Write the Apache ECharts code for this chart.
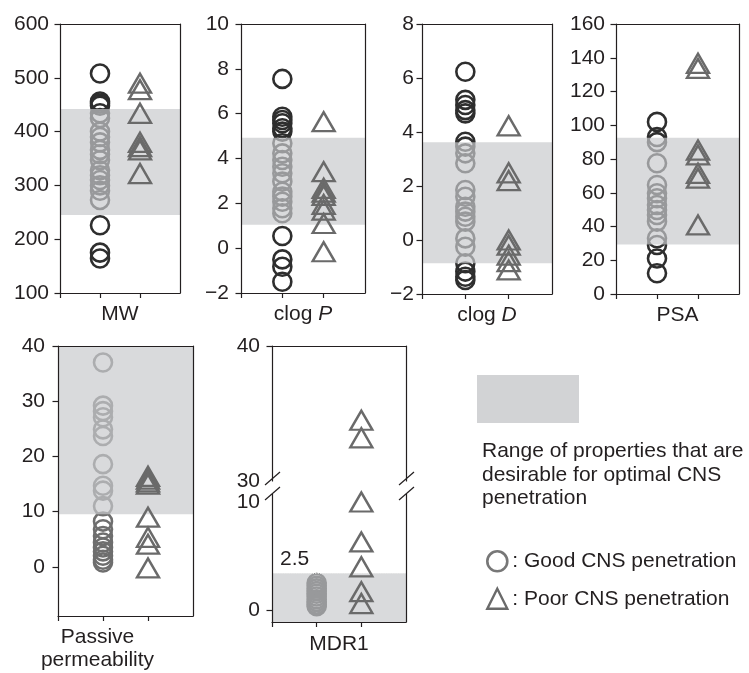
<!DOCTYPE html>
<html><head><meta charset="utf-8">
<script src="https://cdn.jsdelivr.net/npm/echarts@6/dist/echarts.min.js"></script>
<style>html,body{margin:0;padding:0;background:#fff}#c{width:749px;height:673px}</style>
</head><body><div id="c"></div>
<script>
// ---------------- data ----------------
const mwGood = [508, 456, 452, 448, 434, 425, 400, 390, 380, 366, 358, 347, 328, 319, 310, 300, 290, 273, 226, 175, 164];
const mwPoor = [490, 478, 434, 380, 372, 366, 322];
const mwRange = [245, 442];
const mwTicks = [100, 200, 300, 400, 500, 600];

const clogPGood = [7.55, 5.86, 5.72, 5.57, 5.35, 5.2, 4.68, 4.23, 3.93, 3.63, 3.34, 2.97, 2.52, 2.3, 2.07, 1.78, 1.56, 0.54, -0.5, -0.83, -1.5];
const clogPPoor = [5.64, 3.41, 2.67, 2.5, 2.35, 1.95, 1.7, 1.1, -0.16];
const clogPRange = [1.05, 4.93];
const clogPTicks = [-2, 0, 2, 4, 6, 8, 10];

const clogDGood = [6.23, 5.19, 5.0, 4.81, 4.69, 3.64, 3.46, 3.21, 2.84, 1.85, 1.6, 1.23, 1.05, 0.86, 0.68, 0.06, -0.25, -0.86, -1.17, -1.36, -1.48];
const clogDPoor = [4.23, 2.49, 2.2, 0.0, -0.19, -0.56, -0.8, -1.11];
const clogDRange = [-0.86, 3.62];
const clogDTicks = [-2, 0, 2, 4, 6, 8];

const psaGood = [102, 93, 90, 77.5, 64.6, 59.7, 56.7, 52.7, 49.8, 46.8, 42.9, 33, 29, 21, 12.3];
const psaPoor = [136.7, 133.7, 85.3, 82.4, 71.5, 68.6, 40.9];
const psaRange = [29.4, 92.6];
const psaTicks = [0, 20, 40, 60, 80, 100, 120, 140, 160];

const passiveGood = [37, 29.2, 28.2, 27.1, 24.9, 23.7, 18.6, 14.7, 13.8, 11.0, 8.2, 6.8, 5.6, 4.4, 3.5, 2.8, 2.0, 1.3, 0.8];
const passivePoor = [16.4, 15.9, 15.4, 15.0, 9.0, 5.35, 4.1, -0.2];
const passiveRange = [9.55, 40];
const passiveTicks = [0, 10, 20, 30, 40];

const mdr1Good = [2.5, 2.25, 2.0, 1.75, 1.5, 1.25, 1.0, 0.75, 0.5, 0.35];
const mdr1Poor = [34.5, 33.2, 10.0, 6.3, 4.0, 1.7, 0.6];
const mdr1Range = [-1.11, 3.4];
const mdr1Threshold = '2.5';
const mdr1UpperTicks = [30, 40];
const mdr1LowerTicks = [0, 10];

const rangeText = 'Range of properties that are\ndesirable for optimal CNS\npenetration';
const goodName = 'Good CNS penetration';
const poorName = 'Poor CNS penetration';

// ---------------- styling ----------------
const FONT = '"Liberation Sans", Arial, Helvetica, sans-serif';
const INK = '#231f20';
const CIRCLE_DARK = '#2e2e2e';
const CIRCLE_MID = '#6e6e6e';
const TRI = '#6a6a6a';
const SHADE = 'rgba(200,201,204,0.69)';
const FS = 21;

const fmt = v => (v < 0 ? '\u2212' + Math.abs(v) : String(v));
const rich = { n: { fontSize: FS, fontFamily: FONT, color: INK }, i: { fontSize: FS, fontFamily: FONT, color: INK, fontStyle: 'italic' } };

const grids = [], xAxes = [], yAxes = [], series = [];

function addPanel(p) {
  const gi = grids.length;
  grids.push(p.grid);
  const xi = xAxes.length, yi = yAxes.length;
  const line = { show: true, onZero: false, lineStyle: { color: INK, width: 1.2 } };
  const noLine = { show: false, onZero: false };
  xAxes.push({
    gridIndex: gi, type: 'value', min: 0, max: 3, position: 'bottom', z: 10,
    axisLine: p.hideBottom ? noLine : line,
    axisTick: { show: !p.hideBottom, length: 5, lineStyle: { color: INK, width: 1.2 }, customValues: [0, 1, 2] },
    axisLabel: { show: false }, splitLine: { show: false },
    name: p.name || '', nameLocation: 'middle', nameGap: p.nameGap || 9,
    nameTextStyle: { fontSize: FS, fontFamily: FONT, color: INK, lineHeight: 23.5, rich: rich, padding: p.namePad || 0 }
  });
  xAxes.push({
    gridIndex: gi, type: 'value', min: 0, max: 3, position: 'top', z: 10,
    axisLine: p.hideTop ? noLine : line,
    axisTick: { show: false }, axisLabel: { show: false }, splitLine: { show: false }
  });
  yAxes.push({
    gridIndex: gi, type: 'value', min: p.min, max: p.max, position: 'left', z: 10,
    axisLine: line,
    axisTick: { show: true, length: 5.5, lineStyle: { color: INK, width: 1.2 }, customValues: p.tickVals || p.labels },
    axisLabel: { show: true, customValues: p.labels, margin: p.margin, formatter: fmt, fontSize: FS, fontFamily: FONT, color: INK },
    splitLine: { show: false }
  });
  yAxes.push({
    gridIndex: gi, type: 'value', min: p.min, max: p.max, position: 'right', z: 10,
    axisLine: line, axisTick: { show: false }, axisLabel: { show: false }, splitLine: { show: false }
  });
  const circleColor = p.circle || CIRCLE_DARK;
  if (p.good) {
    series.push({
      type: 'scatter', name: goodName, xAxisIndex: xi, yAxisIndex: yi, z: 1,
      symbol: 'circle', symbolSize: 18, silent: true,
      itemStyle: { color: 'rgba(0,0,0,0)', borderColor: circleColor, borderWidth: 2.6, opacity: 1 },
      data: p.good.map(v => [1, v])
    });
  }
  if (p.range) {
    const ma = {
      silent: true, z: 2,
      itemStyle: { color: SHADE, borderWidth: 0 },
      label: p.rangeLabel ? { show: true, formatter: p.rangeLabel, position: [8, -25], fontSize: FS, fontFamily: FONT, color: INK } : { show: false },
      data: [[{ yAxis: p.range[0] }, { yAxis: p.range[1] }]]
    };
    const s = {
      type: 'scatter', name: 'shade', xAxisIndex: xi, yAxisIndex: yi, z: 2, silent: true,
      data: [], markArea: ma
    };
    if (p.dottedTop) {
      s.markLine = {
        silent: true, symbol: ['none', 'none'], z: 2, label: { show: false },
        lineStyle: { type: 'dotted', color: '#e8e8e8', width: 1.2 },
        data: [{ yAxis: p.range[1] }]
      };
    }
    series.push(s);
  }
  if (p.poor) {
    series.push({
      type: 'scatter', name: poorName, xAxisIndex: xi, yAxisIndex: yi, z: 3,
      symbol: 'triangle', symbolSize: [22, 19], silent: true,
      itemStyle: { color: 'rgba(0,0,0,0)', borderColor: TRI, borderWidth: 2.4, opacity: 1 },
      data: p.poor.map(v => [2, v])
    });
  }
  return { xi, yi };
}

addPanel({ grid: { left: 60, top: 24, width: 120, height: 269 }, min: 100, max: 600, labels: mwTicks, margin: 11,
  good: mwGood, poor: mwPoor, range: mwRange, name: '{n|MW}' });
addPanel({ grid: { left: 241, top: 24, width: 124, height: 269 }, min: -2, max: 10, labels: clogPTicks, margin: 12,
  good: clogPGood, poor: clogPPoor, range: clogPRange, name: '{n|clog }{i|P}' });
addPanel({ grid: { left: 422, top: 24, width: 130, height: 270 }, min: -2, max: 8, labels: clogDTicks, margin: 8,
  good: clogDGood, poor: clogDPoor, range: clogDRange, name: '{n|clog }{i|D}' });
addPanel({ grid: { left: 616, top: 24, width: 123, height: 270 }, min: 0, max: 160, labels: psaTicks, margin: 11,
  good: psaGood, poor: psaPoor, range: psaRange, name: '{n|PSA}' });
addPanel({ grid: { left: 58, top: 346, width: 135, height: 271 }, min: -8.9, max: 40, labels: passiveTicks, margin: 13,
  good: passiveGood, poor: passivePoor, range: passiveRange, circle: CIRCLE_MID, name: 'Passive\npermeability', nameGap: 9, namePad: [0, 56, 0, 0] });
const upper = addPanel({ grid: { left: 272, top: 346, width: 134, height: 135 }, min: 30, max: 40, labels: mdr1UpperTicks, tickVals: [40], margin: 12,
  poor: mdr1Poor.filter(v => v >= 20), hideBottom: true });
const lower = addPanel({ grid: { left: 272, top: 494, width: 134, height: 128 }, min: -1.11, max: 10.74, labels: mdr1LowerTicks, tickVals: [0], margin: 12,
  good: mdr1Good, poor: mdr1Poor.filter(v => v < 20), range: mdr1Range, rangeLabel: mdr1Threshold, dottedTop: true, hideTop: true,
  name: '{n|MDR1}', nameGap: 10 });

const option = {
  animation: false,
  backgroundColor: '#fff',
  grid: grids, xAxis: xAxes, yAxis: yAxes, series: series,
  legend: {
    left: 486, top: 550, padding: 0, orient: 'vertical', itemWidth: 20, itemHeight: 20, itemGap: 15, selectedMode: false,
    formatter: n => ': ' + n,
    textStyle: { fontSize: FS, fontFamily: FONT, color: INK, lineHeight: 22 },
    data: [
      { name: goodName, icon: 'circle', itemStyle: { color: 'rgba(0,0,0,0)', borderColor: '#777', borderWidth: 2.6 } },
      { name: poorName, icon: 'triangle', itemStyle: { color: 'rgba(0,0,0,0)', borderColor: '#6a6a6a', borderWidth: 2.4 } }
    ]
  },
  graphic: [
    { type: 'rect', shape: { x: 477, y: 375, width: 102, height: 48 }, style: { fill: '#d2d3d5' }, silent: true },
    { type: 'text', x: 482, y: 440, silent: true, style: { text: rangeText, font: FS + 'px ' + FONT, lineHeight: 23.3, fill: INK } }
  ]
};

const chart = echarts.init(document.getElementById('c'), null, { renderer: 'canvas' });
chart.setOption(option);

// axis-break slashes on the MDR1 panel
const ub = chart.convertToPixel({ xAxisIndex: upper.xi, yAxisIndex: upper.yi }, [0, 30]);
const ubR = chart.convertToPixel({ xAxisIndex: upper.xi, yAxisIndex: upper.yi }, [3, 30]);
const lt = chart.convertToPixel({ xAxisIndex: lower.xi, yAxisIndex: lower.yi }, [0, 10.74]);
const slashes = [];
[ub[0], ubR[0]].forEach(x => {
  slashes.push({ type: 'line', silent: true, shape: { x1: x - 7, y1: ub[1] + 4, x2: x + 8, y2: ub[1] - 9 }, style: { stroke: INK, lineWidth: 1.2 } });
  slashes.push({ type: 'line', silent: true, shape: { x1: x - 7, y1: lt[1] + 6, x2: x + 8, y2: lt[1] - 7 }, style: { stroke: INK, lineWidth: 1.2 } });
});
chart.setOption({ graphic: option.graphic.concat(slashes) });
</script></body></html>
